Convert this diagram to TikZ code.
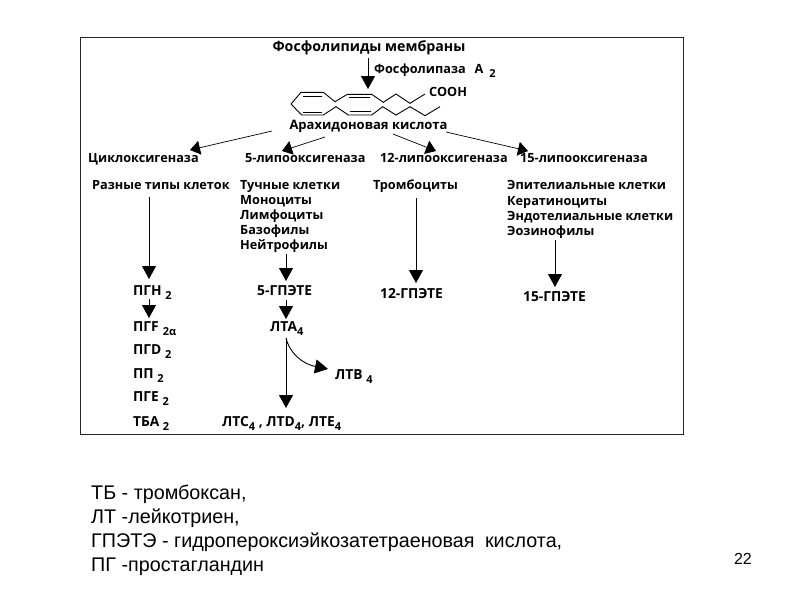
\documentclass[tikz,border=0pt]{standalone}
\usepackage{fontspec}
\setmainfont{Liberation Sans}
\newfontfamily\dfont{Open Sans}
\usetikzlibrary{arrows.meta}
\newcommand{\lowtxt}[1]{\raisebox{-3.5pt}{\fontsize{11}{11}\selectfont #1}}
\tikzset{
  dtext/.style={inner sep=0pt,anchor=base west,yshift=-4.5pt,font=\dfont\bfseries\fontsize{12.7}{14}\selectfont},
  prodtext/.style={inner sep=0pt,anchor=base west,yshift=-4.5pt,font=\dfont\bfseries\fontsize{13.8}{16}\selectfont},
  titletext/.style={inner sep=0pt,anchor=base,yshift=-4.5pt,font=\dfont\bfseries\fontsize{14.2}{16}\selectfont},
  acidtext/.style={inner sep=0pt,anchor=base,yshift=-4.5pt,font=\dfont\bfseries\fontsize{13}{16}\selectfont},
  legend/.style={inner sep=0pt,anchor=base west,yshift=-6pt,font=\fontsize{19.75}{22}\selectfont},
  arr/.style={line width=0.9pt,draw=black,-{Triangle[length=13pt,width=14pt]}},
  arrs/.style={line width=0.7pt,draw=black,-{Triangle[length=10pt,width=14pt]}},
  mol/.style={line width=0.9pt,draw=black,line join=miter},
}
\begin{document}
\begin{tikzpicture}[x=1pt,y=-1pt]
\useasboundingbox (0,0) rectangle (800,600);
\fill[white] (0,0) rectangle (800,600);
\draw[line width=0.9pt,draw=black!85] (80,37) rectangle (683,434);

\node[titletext] (fl) at (369,47) {Фосфолипиды мембраны};
\node[dtext] (pla) at (374,69) {Фосфолипаза\hspace{9pt}А\hspace{6pt}\lowtxt{2}};
\node[dtext] (cooh) at (429,92) {СООН};
\node[acidtext] (ak) at (368.5,125) {Арахидоновая кислота};

\coordinate (fls) at (368,58);
\coordinate (molend) at (368,89);
\draw[arr] (fls) -- (molend);

% molecule
\draw[mol] (291,104) -- (301,92.3) -- (323.3,92.3) -- (335,101.7) -- (347.3,94.3) -- (371.7,94.3) -- (383.3,102.3) -- (396,94) -- (410,103.3) -- (425,94);
\draw[mol] (291,104) -- (301.7,115) -- (323.3,115) -- (336,106.7) -- (348.3,115) -- (371.7,115) -- (382.7,106.7) -- (396,115) -- (410,106.7) -- (425,115.7) -- (440,106.7);
\draw[mol] (303.3,96) -- (321.7,96);
\draw[mol] (303.3,112.3) -- (322.3,112.3);
\draw[mol] (349.3,97.3) -- (370,97.3);
\draw[mol] (350,111.7) -- (371,111.7);

% enzymes
\node[dtext] (cyc) at (88,158) {Циклоксигеназа};
\node[dtext] (l5) at (245,158) {5-липооксигеназа};
\node[dtext] (l12) at (380,158) {12-липооксигеназа};
\node[dtext] (l15) at (520,158) {15-липооксигеназа};

\coordinate (a1) at (272,131);
\coordinate (a2) at (325,137);
\coordinate (a3) at (393,134);
\coordinate (a4) at (446,132);
\coordinate (b1) at (190,150);
\coordinate (b2) at (282,151);
\coordinate (b3) at (436,151);
\coordinate (b4) at (528,151);
\draw[arrs] (a1) -- (b1);
\draw[arrs] (a2) -- (b2);
\draw[arrs] (a3) -- (b3);
\draw[arrs] (a4) -- (b4);

% cells
\node[dtext] (c1) at (92,185) {Разные типы клеток};
\node[dtext] (c2a) at (240,185) {Тучные клетки};
\node[dtext] (c2b) at (240,200) {Моноциты};
\node[dtext] (c2c) at (240,215) {Лимфоциты};
\node[dtext] (c2d) at (240,230) {Базофилы};
\node[dtext] (c2e) at (240,245) {Нейтрофилы};
\node[dtext] (c3) at (373,185) {Тромбоциты};
\node[dtext] (c4a) at (507,185) {Эпителиальные клетки};
\node[dtext] (c4b) at (507,200.5) {Кератиноциты};
\node[dtext] (c4c) at (507,216) {Эндотелиальные клетки};
\node[dtext] (c4d) at (507,231) {Эозинофилы};

% products
\node[prodtext] (pgh) at (133,291) {ПГН \lowtxt{2}};
\node[prodtext] (pgf) at (133,327) {ПГF\hspace{4pt}\lowtxt{2α}};
\node[prodtext] (pgd) at (133,350) {ПГD \lowtxt{2}};
\node[prodtext] (pp) at (133,374) {ПП \lowtxt{2}};
\node[prodtext] (pge) at (133,397) {ПГЕ \lowtxt{2}};
\node[prodtext] (tba) at (133,422) {ТБА \lowtxt{2}};
\node[prodtext] (g5) at (257,291) {5-ГПЭТЕ};
\node[prodtext] (lta) at (270,327) {ЛТА\lowtxt{4}};
\node[prodtext] (ltb) at (335,375) {ЛТВ \lowtxt{4}};
\node[prodtext] (ltc) at (222,422) {ЛТС\lowtxt{4} , ЛТD\lowtxt{4}, ЛТЕ\lowtxt{4}};
\node[prodtext] (g12) at (380,294) {12-ГПЭТЕ};
\node[prodtext] (g15) at (523,297) {15-ГПЭТЕ};

% vertical arrows
\coordinate (s0) at (149,197);
\coordinate (e0) at (149,279);
\draw[arr] (s0) -- (e0);
\coordinate (s7) at (149,299);
\coordinate (e7) at (149,318);
\draw[arr] (s7) -- (e7);
\coordinate (s1) at (286,254);
\coordinate (e1) at (286,281);
\draw[arr] (s1) -- (e1);
\coordinate (s2) at (286,300);
\coordinate (e2) at (286,319);
\draw[arr] (s2) -- (e2);
\coordinate (s3) at (286,338);
\coordinate (e3) at (286,408);
\draw[arr] (s3) -- (e3);
\coordinate (e4) at (328,369);
\draw[line width=0.9pt,-{Triangle[length=13pt,width=14pt]}] (s3) .. controls (290,354) and (303,364) .. (e4);
\coordinate (s5) at (416,198);
\coordinate (e5) at (416,283);
\draw[arr] (s5) -- (e5);
\coordinate (s6) at (555,240);
\coordinate (e6) at (555,287);
\draw[arr] (s6) -- (e6);

% legend
\node[legend] (t1) at (91,493) {ТБ - тромбоксан,};
\node[legend] (t2) at (91,517) {ЛТ -лейкотриен,};
\node[legend] (t3) at (91,541) {ГПЭТЭ - гидропероксиэйкозатетраеновая\hspace{5pt} кислота,};
\node[legend] (t4) at (91,565) {ПГ -простагландин};
\node[inner sep=0pt,anchor=east,font=\fontsize{16}{18}\selectfont] (num) at (752,559) {22};
\end{tikzpicture}
\end{document}
